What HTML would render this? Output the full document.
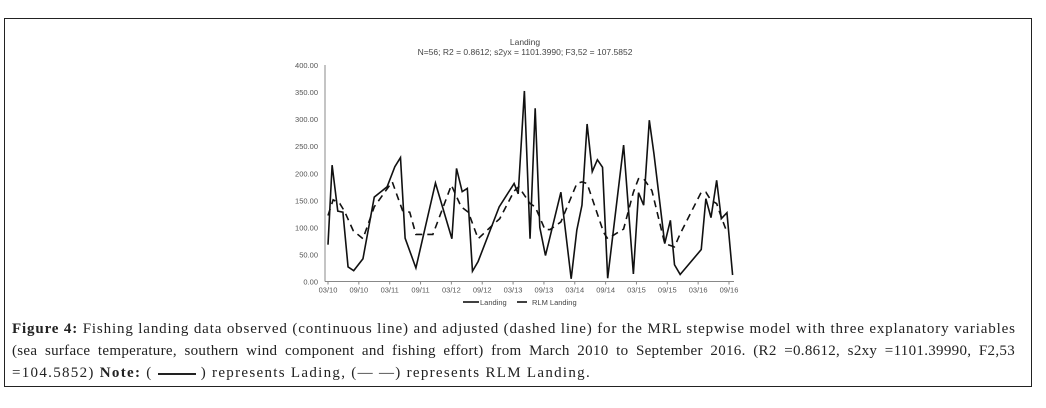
<!DOCTYPE html>
<html><head><meta charset="utf-8">
<style>
html,body{margin:0;padding:0;background:#fff;}
body{width:1046px;height:408px;position:relative;overflow:hidden;}
#frame{position:absolute;left:4px;top:18px;width:1026px;height:367px;border:1.5px solid #222;box-sizing:content-box;}
#caption{position:absolute;left:12px;top:318px;width:1003px;font-family:"Liberation Serif",serif;font-size:15px;line-height:22px;color:#222;letter-spacing:0.85px;}
#caption div{white-space:nowrap;}
#caption .j{text-align:justify;text-align-last:justify;}
svg{position:absolute;left:0;top:0;}
</style></head>
<body>
<div id="frame"></div>
<svg id="chart" width="1046" height="408"></svg>
<div id="caption">
<div class="j"><b>Figure 4:</b> Fishing landing data observed (continuous line) and adjusted (dashed line) for the MRL stepwise model with three explanatory variables</div>
<div class="j" style="letter-spacing:0.3px">(sea surface temperature, southern wind component and fishing effort) from March 2010 to September 2016. (R2 =0.8612, s2xy =1101.39990, F2,53</div>
<div style="letter-spacing:1.3px">=104.5852) <b>Note:</b> ( <span style="display:inline-block;width:38px;border-top:2px solid #222;vertical-align:middle"></span> ) represents Lading, (— —) represents RLM Landing.</div>
</div>
<script>
const landingMonths=[0,0.8,1.9,2.9,3.9,5,6.8,9,11.5,13,14.1,15,17.1,20.9,24.1,25,26.1,27.1,28.1,29.2,33.3,36.2,37,38.2,39.3,40.3,41.2,42.3,45.3,47.3,48.4,49.4,50.4,51.4,52.4,53.4,54.4,57.5,59.4,60.4,61.4,62.5,63.4,65.5,66.6,67.4,68.5,72.6,73.5,74.5,75.6,76.5,77.6,78.7];
const landingValues=[68,215,130,128,27,20,42,156,175,212,229,80,25,182,79,209,166,172,19,37,138,181,162,352,79,320,100,48,165,5,95,141,291,203,225,211,6,252,14,164,141,298,236,70,113,31,13,59,153,118,187,116,127,12];
const rlmMonths=[0,1,2.3,3.2,4.9,6.8,9,11.4,12.5,14.5,15.9,17.1,20.4,24,25.9,27.3,29.2,32.1,33.4,36.2,37.1,39.3,40.3,42.2,43.2,45.3,48.4,49.4,50.4,53.6,54.4,57.5,59.4,60.4,61.4,63,65.5,67.4,68.5,72.6,73.5,74.5,75.6,76.5,77.6];
const rlmValues=[122,151,144,130,94,79,138,170,184,131,128,87,87,178,138,128,79,105,116,167,175,144,138,96,96,110,181,184,181,91,79,97,165,190,190,168,70,64,88,165,165,150,144,119,91];
const yTicks=[0,50,100,150,200,250,300,350,400];
const xTickLabels=["03/10","09/10","03/11","09/11","03/12","09/12","03/13","09/13","03/14","09/14","03/15","09/15","03/16","09/16"];

const X0=328,X1=729,MMAX=78,Y0=281.5,Y1=65,VMAX=400;
const xs=m=>X0+(X1-X0)*m/MMAX;
const ys=v=>Y0-(Y0-Y1)*v/VMAX;
const NS="http://www.w3.org/2000/svg";
const svg=document.getElementById('chart');
function mk(tag,attrs,text){const e=document.createElementNS(NS,tag);for(const k in attrs)e.setAttribute(k,attrs[k]);if(text!==undefined)e.textContent=text;svg.appendChild(e);return e;}
const F='"Liberation Sans",Arial,sans-serif';
let t=mk('text',{x:525,y:45,'text-anchor':'middle','font-family':F,'font-size':8.5,fill:'#444'},'Landing');


t=mk('text',{x:525,y:55,'text-anchor':'middle','font-family':F,'font-size':8.5,fill:'#444'},'N=56; R2 = 0.8612; s2yx = 1101.3990; F3,52 = 107.5852');


let a=mk('line',{x1:X0-3,y1:Y1,x2:X0-3,y2:Y0,stroke:'#888','stroke-width':1});


a=mk('line',{x1:X0-3,y1:Y0,x2:734,y2:Y0,stroke:'#888','stroke-width':1});


yTicks.forEach(v=>{const e=mk('text',{x:318,y:ys(v)+3,'text-anchor':'end','font-family':F,'font-size':7.5,fill:'#555'},v.toFixed(2));

});
xTickLabels.forEach((l,i)=>{const x=xs(i*6);mk('line',{x1:x,y1:Y0,x2:x,y2:Y0+3,stroke:'#888'});
const e=mk('text',{x:x,y:Y0+11,'text-anchor':'middle','font-family':F,'font-size':7.5,fill:'#555'},l);

});
const p1=mk('polyline',{points:landingMonths.map((m,i)=>xs(m)+','+ys(landingValues[i])).join(' '),fill:'none',stroke:'#111','stroke-width':1.6,'stroke-linejoin':'miter'});


const p2=mk('polyline',{points:rlmMonths.map((m,i)=>xs(m)+','+ys(rlmValues[i])).join(' '),fill:'none',stroke:'#111','stroke-width':1.6,'stroke-dasharray':'7,5'});


mk('line',{x1:463,y1:302,x2:479,y2:302,stroke:'#111','stroke-width':1.6});
let lg=mk('text',{x:480,y:305,'font-family':F,'font-size':7.5,fill:'#444'},'Landing');


mk('line',{x1:517,y1:302,x2:527,y2:302,stroke:'#111','stroke-width':1.6});
lg=mk('text',{x:532,y:305,'font-family':F,'font-size':7.5,fill:'#444'},'RLM Landing');


</script>
</body></html>
